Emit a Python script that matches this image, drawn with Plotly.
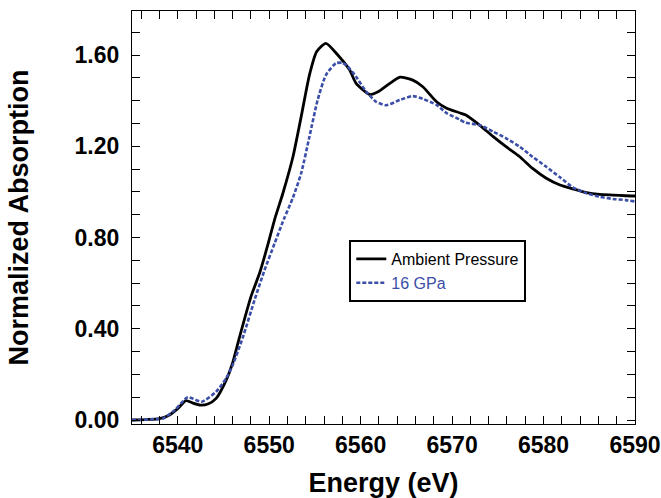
import plotly.graph_objects as go

# Ambient pressure spectrum
energy_ambient = [6535.0, 6536.5, 6538.0, 6539.0, 6540.0, 6540.9, 6541.6, 6542.5, 6543.3, 6544.2,
                  6545.3, 6546.0, 6546.8, 6548.0, 6549.0, 6549.9, 6550.6, 6551.5, 6552.6, 6553.5,
                  6554.4, 6555.2, 6556.2, 6557.5, 6558.8, 6559.5, 6561.0, 6561.9, 6563.2, 6564.3,
                  6565.7, 6566.8, 6568.3, 6569.4, 6570.8, 6571.5, 6573.0, 6574.5, 6575.9, 6577.4,
                  6578.8, 6580.3, 6581.8, 6583.2, 6584.7, 6586.1, 6587.6, 6589.0, 6590.0]
absorb_ambient = [0.000, 0.002, 0.006, 0.020, 0.050, 0.085, 0.075, 0.065, 0.070, 0.095,
                  0.175, 0.250, 0.370, 0.540, 0.650, 0.775, 0.880, 0.994, 1.154, 1.330,
                  1.512, 1.615, 1.651, 1.600, 1.534, 1.476, 1.427, 1.439, 1.476, 1.503,
                  1.490, 1.461, 1.395, 1.367, 1.347, 1.337, 1.293, 1.242, 1.198, 1.154,
                  1.103, 1.060, 1.030, 1.013, 0.997, 0.989, 0.986, 0.983, 0.982]

# 16 GPa spectrum
energy_16gpa = [6535.0, 6537.0, 6538.4, 6539.7, 6541.1, 6542.6, 6544.2, 6545.3, 6546.0, 6547.1,
                6548.4, 6549.5, 6550.6, 6551.6, 6552.6, 6553.5, 6554.4, 6555.3, 6556.2, 6557.3,
                6558.0, 6558.5, 6559.5, 6560.6, 6561.7, 6562.8, 6564.3, 6565.7, 6566.8, 6568.3,
                6569.4, 6570.8, 6571.5, 6573.0, 6574.5, 6575.9, 6577.4, 6578.8, 6580.3, 6581.8,
                6583.2, 6584.7, 6586.1, 6587.6, 6589.0, 6590.0]
absorb_16gpa = [0.000, 0.003, 0.007, 0.044, 0.100, 0.080, 0.124, 0.183, 0.240, 0.360,
                0.526, 0.658, 0.775, 0.880, 0.975, 1.082, 1.242, 1.403, 1.512, 1.564,
                1.566, 1.553, 1.505, 1.440, 1.395, 1.380, 1.403, 1.420, 1.408, 1.381,
                1.345, 1.318, 1.303, 1.293, 1.264, 1.235, 1.198, 1.154, 1.110, 1.064,
                1.020, 0.994, 0.979, 0.969, 0.964, 0.958]

series_names = ["Ambient Pressure", "16 GPa"]
x_ticks = [6540, 6550, 6560, 6570, 6580, 6590]
y_ticks = [0.0, 0.4, 0.8, 1.2, 1.6]

BLUE = "#3b4ea8"
FONT = "Liberation Sans, Arial, Helvetica, sans-serif"

fig = go.Figure()
fig.add_trace(go.Scatter(x=energy_ambient, y=absorb_ambient, mode="lines",
                         name=series_names[0],
                         line=dict(color="black", width=2.8, shape="spline", smoothing=0.6)))
fig.add_trace(go.Scatter(x=energy_16gpa, y=absorb_16gpa, mode="lines",
                         name="<span style='color:%s'>%s</span>" % (BLUE, series_names[1]),
                         line=dict(color=BLUE, width=2.6, dash="4px,2px", shape="spline", smoothing=0.6)))

axis_common = dict(showline=True, linecolor="black", linewidth=1.2, mirror="allticks",
                   ticks="inside", ticklen=8, tickwidth=1, tickcolor="black",
                   showgrid=False, zeroline=False, automargin=False,
                   tickfont=dict(family=FONT, size=23, color="black", weight="bold"))

fig.update_xaxes(range=[6535, 6590], tickvals=x_ticks, ticktext=[str(v) for v in x_ticks],
                 minor=dict(dtick=2, tick0=6540, ticks="inside", ticklen=8, tickwidth=1, tickcolor="black"),
                 title=dict(text="Energy (eV)", standoff=20,
                            font=dict(family=FONT, size=27, color="black", weight="bold")),
                 ticklabelstandoff=0,
                 **axis_common)
fig.update_yaxes(range=[-0.0175, 1.793], tickvals=y_ticks, ticktext=["%.2f" % v for v in y_ticks],
                 minor=dict(dtick=0.1, tick0=0, ticks="inside", ticklen=8, tickwidth=1, tickcolor="black"),
                 title=dict(text="Normalized Absorption", standoff=38,
                            font=dict(family=FONT, size=27, color="black", weight="bold")),
                 ticklabelstandoff=7,
                 **axis_common)

fig.update_layout(
    width=661, height=498,
    margin=dict(l=132, r=26, t=11, b=74),
    paper_bgcolor="white", plot_bgcolor="white",
    showlegend=True,
    legend=dict(x=0.432, y=0.4455, xanchor="left", yanchor="top",
                bgcolor="white", bordercolor="black", borderwidth=2,
                font=dict(family=FONT, size=16, color="black"),
                entrywidth=180, entrywidthmode="pixels",
                tracegroupgap=0),
)

fig.write_html("out.html")
